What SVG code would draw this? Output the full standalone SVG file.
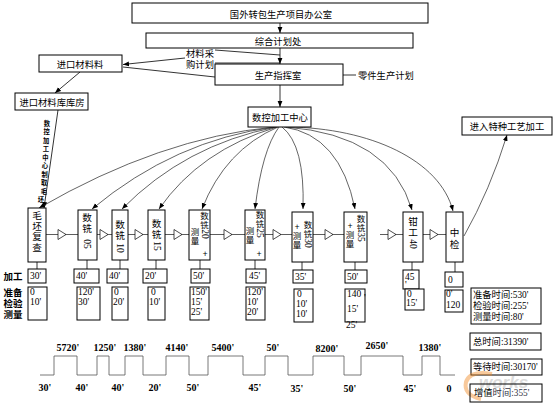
<svg xmlns="http://www.w3.org/2000/svg" width="554" height="407" viewBox="0 0 554 407">
<style>
rect{fill:#fff;stroke:#000;stroke-width:1}
text{fill:#000}
.c{font-family:"Noto Sans CJK SC",sans-serif;font-size:9.3px;text-anchor:middle;dominant-baseline:central}
.cs{font-family:"Noto Sans CJK SC",sans-serif;font-size:9.3px;dominant-baseline:central}
.v{font-family:"Noto Sans CJK SC",sans-serif;font-size:9.6px;text-anchor:middle;dominant-baseline:central}
.v9{font-family:"Noto Sans CJK SC",sans-serif;font-size:8.5px;text-anchor:middle;dominant-baseline:central}
.r{font-family:"Liberation Serif",serif;font-size:9.5px;text-anchor:middle;dominant-baseline:central}
.n{font-family:"Liberation Serif",serif;font-size:9.5px;dominant-baseline:central}
.w{font-family:"Liberation Serif",serif;font-size:10px;font-weight:bold;text-anchor:middle;dominant-baseline:central}
.s{font-family:"Liberation Serif","Noto Sans CJK SC",serif;font-size:9.3px;dominant-baseline:central}
.lb{font-family:"Noto Sans CJK SC",sans-serif;font-size:9.5px;font-weight:bold;text-anchor:middle;dominant-baseline:central}
.vt{font-family:"Noto Sans CJK SC",sans-serif;font-size:6.3px;font-weight:bold;text-anchor:middle;dominant-baseline:central}
.ln{stroke:#000;stroke-width:0.8;fill:none}
.ar{stroke:#000;stroke-width:0.8;fill:none;marker-end:url(#ah)}
.cv{stroke:#222;stroke-width:0.7;fill:none;marker-end:url(#ah)}
.fl{stroke:#333;stroke-width:0.8;fill:none}
</style>
<defs>
<marker id="ah" viewBox="0 0 10 10" refX="10" refY="5" markerWidth="6" markerHeight="6" orient="auto" markerUnits="userSpaceOnUse"><path d="M0,1 L10,5 L0,9 Z" fill="#000"/></marker>
<path id="tri" d="M0,-5 L8,0 L0,5 Z" fill="#fff" stroke="#000" stroke-width="0.7"/>
</defs>
<rect x="0" y="0" width="554" height="407" style="fill:#fff;stroke:none"/>

<g id="connectors">
<path class="ar" d="M280,23 V33"/>
<path class="ar" d="M280,48 V64"/>
<path class="ar" d="M280,85 V107"/>
<path class="ln" d="M280,55 L215,50"/>
<path class="ln" d="M280,63 L215,63"/>
<path class="ar" d="M185,58 L123,64.5"/>
<path class="ln" d="M123,67 L215,77"/>
<path class="ln" d="M343,75 H356"/>
<path class="ar" d="M80,72 L55,93"/>
<path class="ar" d="M58,110 L44,208"/>
<path class="cv" d="M274,127 Q160,138 39,208"/>
<path class="cv" d="M275,127 Q175,140 92,209"/>
<path class="cv" d="M276,127 Q185,145 122,209"/>
<path class="cv" d="M277,127 Q200,150 159,209"/>
<path class="cv" d="M278,127 Q225,150 202,209"/>
<path class="cv" d="M279,127 Q262,150 255,209"/>
<path class="cv" d="M282,127 Q305,145 303,209"/>
<path class="cv" d="M284,127 Q340,135 355,209"/>
<path class="cv" d="M286,127 Q390,135 412,210"/>
<path class="cv" d="M288,127 C370,128 440,160 453,211"/>
<path class="cv" d="M464,236 Q490,190 507,135"/>
<path class="fl" d="M46,234.5 H78 M97,234.5 H112 M128,234.5 H148 M165,234.5 H189 M210,234.5 H245 M265,234.5 H292 M313,234.5 H344 M380,234.5 H403 M423,234.5 H446"/>
<use href="#tri" x="58" y="234.5"/>
<use href="#tri" x="100" y="234.5"/>
<use href="#tri" x="135" y="234.5"/>
<use href="#tri" x="174" y="234.5"/>
<use href="#tri" x="224" y="234.5"/>
<use href="#tri" x="273" y="234.5"/>
<use href="#tri" x="325" y="234.5"/>
<use href="#tri" x="388" y="234.5"/>
<use href="#tri" x="430" y="234.5"/>
<path class="ln" d="M37,262 V269 M87,260 V269 M120,260 V269 M156,260 V269 M200,260 V269 M255,260 V269 M302,262 V270 M355,262 V270 M412,262 V270 M455,262 V272"/>
</g>

<g id="n-office"><rect x="132" y="3" width="296" height="20"/><text class="c" x="281" y="13.5">国外转包生产项目办公室</text></g>
<g id="n-plan"><rect x="146" y="33" width="267" height="15"/><text class="c" x="278" y="41">综合计划处</text></g>
<g id="n-command"><rect x="215" y="64" width="128" height="21"/><text class="c" x="278" y="75">生产指挥室</text></g>
<g id="n-cnc"><rect x="248" y="107" width="63" height="20"/><text class="c" x="280" y="117">数控加工中心</text></g>
<g id="n-import"><rect x="39" y="55" width="83" height="17"/><text class="c" x="80" y="64">进口材料料</text></g>
<g id="n-store"><rect x="15" y="93" width="73" height="17"/><text class="c" x="52" y="102">进口材料库库房</text></g>
<g id="n-special"><rect x="462" y="117" width="90" height="18"/><text class="c" x="507" y="126">进入特种工艺加工</text></g>
<g id="l-parts"><text class="cs" x="358" y="75">零件生产计划</text></g>
<g id="l-purchase"><text class="c" x="200" y="53">材料采</text><text class="c" x="200" y="63.5">购计划</text></g>
<g id="l-blank"><text class="vt" x="47" y="123">数</text><text class="vt" x="46.6" y="131.5">控</text><text class="vt" x="46.2" y="140">加</text><text class="vt" x="45.8" y="148.5">工</text><text class="vt" x="45.4" y="157">中</text><text class="vt" x="45" y="165.5">心</text><text class="vt" x="44.6" y="174">制</text><text class="vt" x="44.2" y="182.5">取</text><text class="vt" x="43.8" y="191">毛</text><text class="vt" x="41" y="199.5">坯</text></g>

<g id="p-blank"><rect x="28" y="208" width="18" height="54"/><text class="v" x="37" y="215">毛</text><text class="v" x="37" y="225.5">坯</text><text class="v" x="37" y="236">复</text><text class="v" x="37" y="246.5">查</text></g>
<g id="p-05"><rect x="78" y="210" width="19" height="50"/><text class="v" x="87" y="217">数</text><text class="v" x="87" y="228">铣</text><text class="r" transform="translate(87,244) rotate(90)">05</text></g>
<g id="p-10"><rect x="112" y="210" width="16" height="50"/><text class="v" x="120" y="224">数</text><text class="v" x="120" y="235">铣</text><text class="r" transform="translate(120,248) rotate(90)">10</text></g>
<g id="p-15"><rect x="148" y="210" width="17" height="50"/><text class="v" x="156.5" y="223">数</text><text class="v" x="156.5" y="234">铣</text><text class="r" transform="translate(156.5,246) rotate(90)">15</text></g>
<g id="p-20"><rect x="189" y="210" width="21" height="50"/><text class="v9" x="204.5" y="215">数</text><text class="v9" x="204.5" y="224">铣</text><text class="r" transform="translate(204.5,234) rotate(90)">20</text><text class="v9" x="195" y="231">测</text><text class="v9" x="195" y="240">量</text><text class="v9" x="205" y="253">+</text></g>
<g id="p-25"><rect x="245" y="210" width="20" height="50"/><text class="v9" x="260" y="214">数</text><text class="v9" x="260" y="223">铣</text><text class="r" transform="translate(260,233) rotate(90)">25</text><text class="v9" x="250" y="230">测</text><text class="v9" x="250" y="239">量</text><text class="v9" x="259" y="253">+</text></g>
<g id="p-30"><rect x="292" y="212" width="21" height="50"/><text class="v9" x="308" y="224">数</text><text class="v9" x="308" y="233">铣</text><text class="r" transform="translate(308,243) rotate(90)">30</text><text class="v9" x="297" y="226">+</text><text class="v9" x="297" y="235">测</text><text class="v9" x="297" y="244">量</text></g>
<g id="p-35"><rect x="344" y="212" width="23" height="50"/><text class="v9" x="361" y="218">数</text><text class="v9" x="361" y="227">铣</text><text class="r" transform="translate(361,237) rotate(90)">35</text><text class="v9" x="350" y="225">+</text><text class="v9" x="350" y="234">测</text><text class="v9" x="350" y="243">量</text></g>
<g id="p-40"><rect x="403" y="212" width="20" height="50"/><text class="v" x="413" y="221">钳</text><text class="v" x="413" y="232">工</text><text class="r" transform="translate(413,244) rotate(90)">40</text></g>
<g id="p-check"><rect x="446" y="212" width="17" height="50"/><text class="v" x="454.5" y="232">中</text><text class="v" x="454.5" y="244">检</text></g>

<g id="row-labels"><text class="lb" x="13" y="276">加工</text><text class="lb" x="13" y="292">准备</text><text class="lb" x="13" y="303">检验</text><text class="lb" x="13" y="314">测量</text></g>

<g id="t-blank"><rect x="28" y="269" width="18" height="14"/><text class="n" x="30" y="276">30'</text><rect x="28" y="287" width="19" height="33"/><text class="n" x="30" y="292">0</text><text class="n" x="30" y="302">10'</text></g>
<g id="t-05"><rect x="74" y="269" width="25" height="14"/><text class="n" x="76" y="276">40'</text><rect x="77" y="287" width="23" height="33"/><text class="n" x="78" y="292">120'</text><text class="n" x="78" y="302">30'</text></g>
<g id="t-10"><rect x="107" y="269" width="21" height="14"/><text class="n" x="109" y="276">40'</text><rect x="112" y="287" width="16" height="33"/><text class="n" x="114" y="292">0</text><text class="n" x="113" y="302">20'</text></g>
<g id="t-15"><rect x="143" y="269" width="24" height="14"/><text class="n" x="145" y="276">20'</text><rect x="148" y="287" width="17" height="33"/><text class="n" x="151" y="292">0</text><text class="n" x="149" y="302">10'</text></g>
<g id="t-20"><rect x="191" y="269" width="19" height="14"/><text class="n" x="193" y="276">50'</text><rect x="190" y="287" width="19" height="33"/><text class="n" x="191" y="292">150'</text><text class="n" x="191" y="302">15'</text><text class="n" x="191" y="312">25'</text></g>
<g id="t-25"><rect x="246" y="269" width="20" height="14"/><text class="n" x="249" y="276">45'</text><rect x="246" y="287" width="19" height="33"/><text class="n" x="247" y="292">120'</text><text class="n" x="247" y="302">10'</text><text class="n" x="247" y="312">20'</text></g>
<g id="t-30"><rect x="293" y="270" width="20" height="13"/><text class="n" x="295" y="277">35'</text><rect x="294" y="289" width="19" height="33"/><text class="n" x="297" y="294">0</text><text class="n" x="296" y="304">10'</text><text class="n" x="296" y="314">10'</text></g>
<g id="t-35"><rect x="345" y="270" width="22" height="13"/><text class="n" x="347" y="277">50'</text><rect x="345" y="289" width="20" height="33"/><text class="n" x="347" y="294">140</text><text class="n" x="364" y="298">'</text><text class="n" x="347" y="309">15'</text><text class="n" x="346" y="325">25'</text></g>
<g id="t-40"><rect x="403" y="270" width="16" height="19"/><text class="n" x="405" y="277">45</text><text class="n" x="405" y="285">'</text><rect x="405" y="289" width="19" height="21"/><text class="n" x="407" y="294">0</text><text class="n" x="406" y="303">15'</text></g>
<g id="t-check"><rect x="445" y="272" width="18" height="15"/><text class="n" x="448" y="279.5">0</text><rect x="445" y="290" width="18" height="22"/><text class="n" x="446" y="294">0'</text><text class="n" x="446" y="305">120</text></g>

<g id="summary">
<rect x="471" y="288" width="70" height="36"/><text class="s" x="473" y="295">准备时间:530'</text><text class="s" x="473" y="306">检验时间:255'</text><text class="s" x="473" y="317">测量时间:80'</text>
</g>
<g id="total"><rect x="470" y="333" width="71" height="17"/><text class="s" x="473" y="342">总时间:31390'</text></g>
<g id="wait"><rect x="471" y="359" width="71" height="16"/><text class="s" x="473" y="367">等待时间:30170'</text></g>

<g id="watermark" opacity="0.45">
<path d="M492,374 Q470,370 466,382 Q463,395 481,399" fill="none" stroke="#f08a24" stroke-width="4"/>
<text x="479" y="388" style="font-family:'Liberation Sans',sans-serif;font-size:17px;font-style:italic;font-weight:bold;fill:#b0b0b0">works</text>
</g>
<g id="value"><rect x="470" y="384" width="72" height="18" style="fill:none"/><text class="s" x="474" y="393">增值<tspan fill="#334">时间:355'</tspan></text></g>

<g id="timeline">
<path d="M40,375 H54 V356 H77 V375 H97 V356 H109 V375 H125 V356 H143 V375 H166 V356 H189 V375 H208 V356 H243 V375 H265 V356 H288 V375 H313 V356 H344 V375 H361 V356 H403 V375 H422 V356 H440 V375 H455" fill="none" stroke="#555" stroke-width="0.8"/>
<text class="w" x="68" y="347">5720'</text><text class="w" x="105" y="347">1250'</text><text class="w" x="135" y="347">1380'</text><text class="w" x="177" y="347">4140'</text><text class="w" x="223" y="347">5400'</text><text class="w" x="273" y="347">50'</text><text class="w" x="327" y="348">8200'</text><text class="w" x="377" y="345">2650'</text><text class="w" x="430" y="347">1380'</text>
<text class="w" x="45" y="387">30'</text><text class="w" x="82" y="387">40'</text><text class="w" x="118" y="387">40'</text><text class="w" x="155" y="387">20'</text><text class="w" x="193" y="387">50'</text><text class="w" x="255" y="387">45'</text><text class="w" x="297" y="388">35'</text><text class="w" x="350" y="388">50'</text><text class="w" x="410" y="388">45'</text><text class="w" x="449" y="388">0</text>
</g>
</svg>
